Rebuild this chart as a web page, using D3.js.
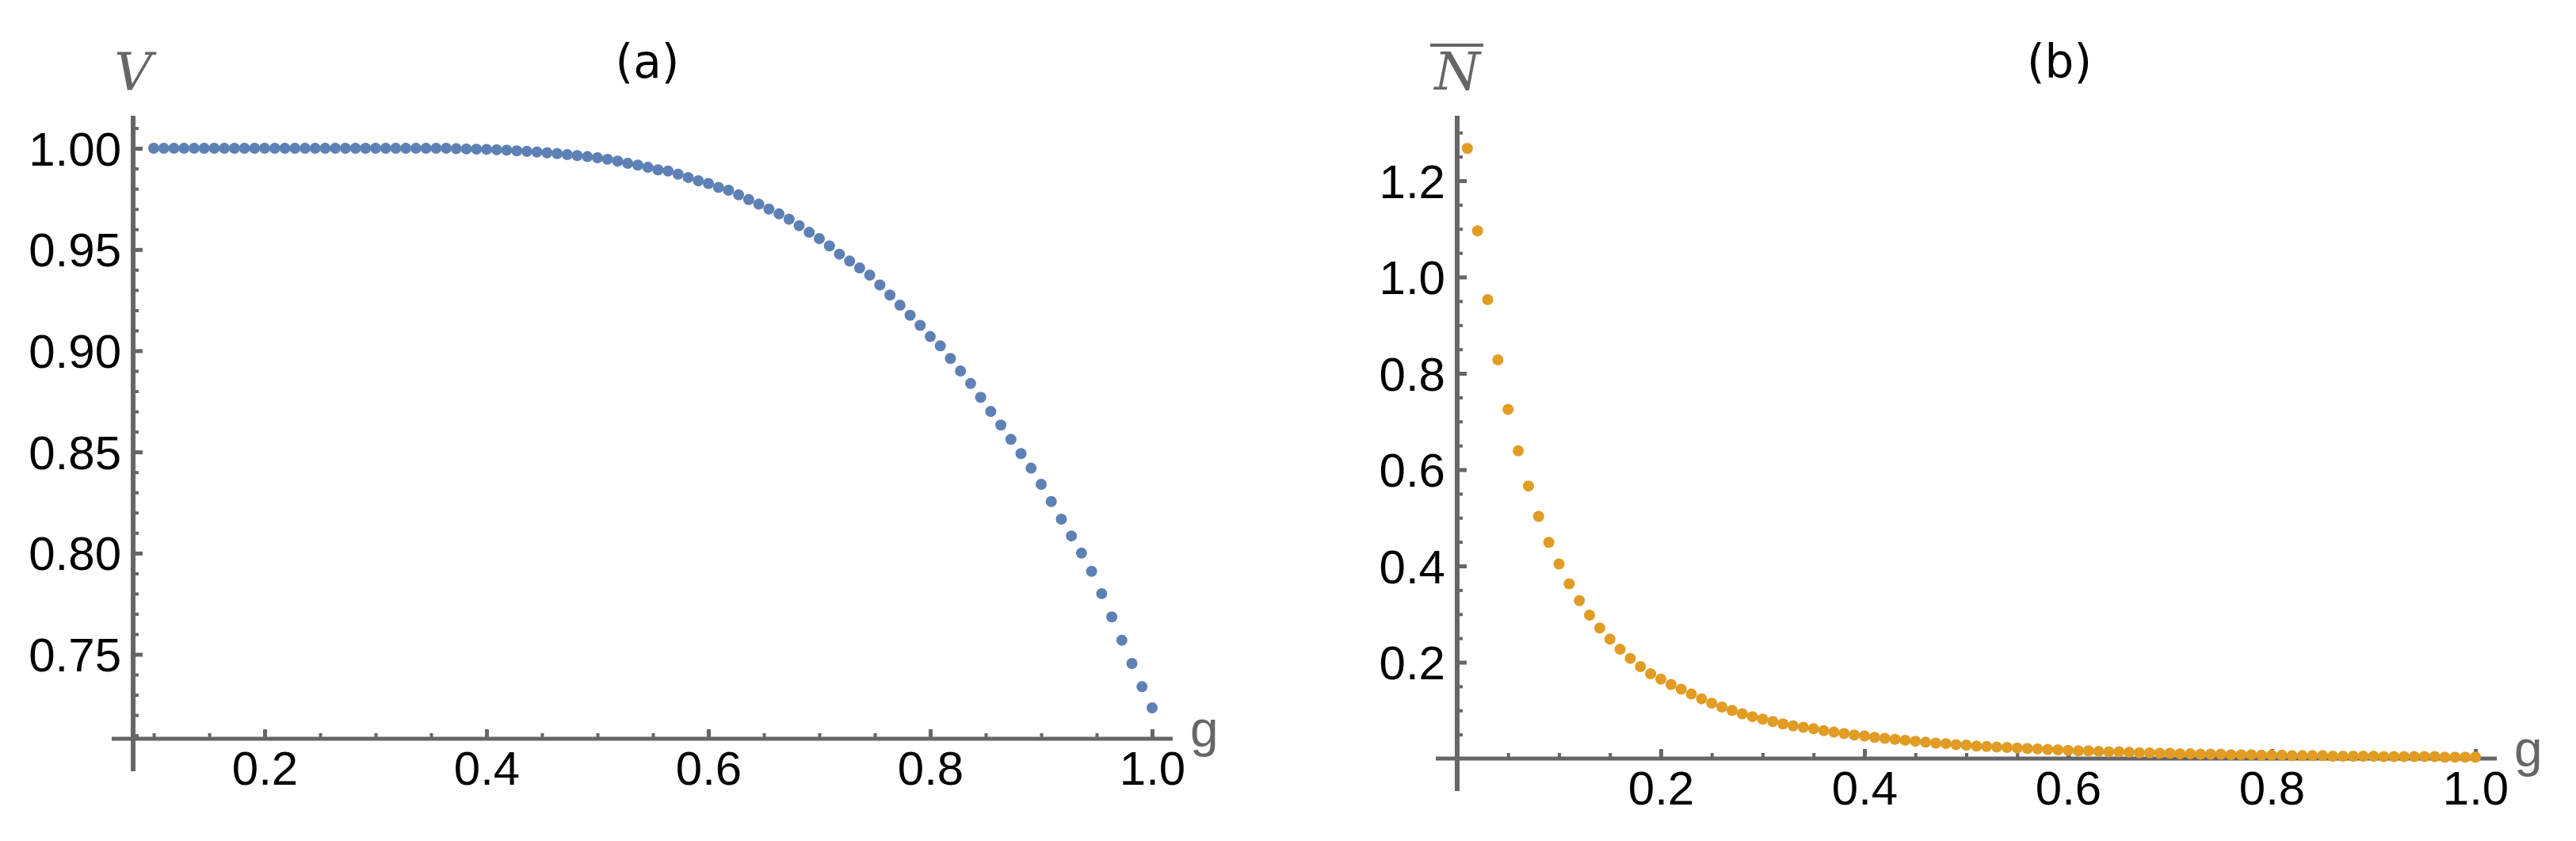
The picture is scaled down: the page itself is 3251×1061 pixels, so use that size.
<!DOCTYPE html>
<html>
<head>
<meta charset="utf-8">
<script src="https://cdn.jsdelivr.net/npm/d3@7"></script>
<style>
  body { margin: 0; background: #fff; }
  svg { display: block; }
</style>
</head>
<body>
<div id="chart"></div>
<script>
// panel (a): visibility V, 100 samples from g = 0.1 to 1.0
const gStartA = 0.1, gEndA = 1.0;
const visibility = [
  1, 1, 1, 1, 1, 1, 1, 1, 1, 1,
  1, 1, 1, 1, 1, 1, 1, 1, 1, 1,
  1, 1, 1, 1, 1, 1, 1, 1, 1, 1,
  0.9998, 0.9997, 0.9996, 0.9995, 0.9993, 0.9991, 0.9988, 0.9985, 0.9982, 0.9978,
  0.9974, 0.9969, 0.9964, 0.9959, 0.9953, 0.9946, 0.9937, 0.9926, 0.9917, 0.9906,
  0.9894, 0.9888, 0.9872, 0.9856, 0.984, 0.9826, 0.9807, 0.9793, 0.977, 0.9747,
  0.9724, 0.97, 0.9676, 0.965, 0.9618, 0.9585, 0.9554, 0.9518, 0.9477, 0.9443,
  0.9409, 0.9374, 0.9325, 0.9275, 0.9225, 0.9175, 0.9125, 0.907, 0.9024, 0.8962,
  0.89, 0.8838, 0.877, 0.87, 0.8633, 0.8562, 0.8492, 0.842, 0.834, 0.8255,
  0.8168, 0.8085, 0.8, 0.791, 0.78, 0.7685, 0.757, 0.7455, 0.734, 0.7236
];

// panel (b): mean N, 100 samples from g = 0.01 to 1.0
const gStartB = 0.01, gEndB = 1.0;
const meanN = [
  1.267, 1.096, 0.953, 0.828, 0.725, 0.639, 0.566, 0.503, 0.449, 0.404,
  0.363, 0.328, 0.298, 0.271, 0.248, 0.227, 0.208, 0.191, 0.176, 0.165,
  0.154, 0.144, 0.134, 0.124, 0.115, 0.107, 0.100, 0.093, 0.087, 0.082,
  0.077, 0.072, 0.068, 0.065, 0.062, 0.058, 0.055, 0.052, 0.049, 0.047,
  0.044, 0.042, 0.040, 0.038, 0.036, 0.034, 0.032, 0.031, 0.029, 0.028,
  0.026, 0.025, 0.024, 0.023, 0.022, 0.021, 0.020, 0.019, 0.018, 0.017,
  0.016, 0.016, 0.015, 0.014, 0.014, 0.013, 0.012, 0.012, 0.011, 0.011,
  0.010, 0.010, 0.009, 0.009, 0.009, 0.008, 0.008, 0.008, 0.007, 0.007,
  0.007, 0.006, 0.006, 0.006, 0.006, 0.005, 0.005, 0.005, 0.005, 0.005,
  0.004, 0.004, 0.004, 0.004, 0.004, 0.004, 0.003, 0.003, 0.003, 0.003
];

const xTicks = [0.2, 0.4, 0.6, 0.8, 1.0];
const yTicksA = [0.75, 0.80, 0.85, 0.90, 0.95, 1.00];
const yTicksB = [0.2, 0.4, 0.6, 0.8, 1.0, 1.2];

const W = 3251, H = 1061;
const axisColor = "#666666";
const font = "'Liberation Sans', Arial, sans-serif";

const svg = d3.select("#chart").append("svg")
  .attr("width", W).attr("height", H);

function sampleGrid(start, end, n) {
  return d3.range(n).map(i => start + i * (end - start) / (n - 1));
}

function drawPanel(cfg) {
  const x = d3.scaleLinear().domain(cfg.xDomain).range([cfg.left, cfg.right]);
  const y = d3.scaleLinear().domain(cfg.yDomain).range([cfg.bottom, cfg.top]);
  const g = svg.append("g");

  // minor ticks
  const xMinor = d3.range(0.05, 1.0001, 0.05).filter(v => v >= cfg.xDomain[0]);
  g.append("g").attr("transform", `translate(0,${cfg.bottom})`)
    .call(d3.axisTop(x).tickValues(xMinor).tickSize(7).tickFormat(""))
    .call(a => a.select(".domain").remove())
    .selectAll("line").attr("stroke", axisColor).attr("stroke-width", 4);

  const yMinor = d3.range(cfg.yMinorStart, cfg.yDomain[1], cfg.yMinorStep);
  g.append("g").attr("transform", `translate(${cfg.left},0)`)
    .call(d3.axisRight(y).tickValues(yMinor).tickSize(7).tickFormat(""))
    .call(a => a.select(".domain").remove())
    .selectAll("line").attr("stroke", axisColor).attr("stroke-width", 4);

  // major ticks + labels
  const xa = g.append("g").attr("transform", `translate(0,${cfg.bottom})`)
    .call(d3.axisTop(x).tickValues(xTicks).tickSize(12).tickFormat(d3.format(".1f")));
  xa.select(".domain").remove();
  xa.selectAll("line").attr("stroke", axisColor).attr("stroke-width", 5);
  xa.selectAll("text").attr("y", 58).attr("dy", 0)
    .attr("font-family", font).attr("font-size", 60).attr("fill", "#000");

  const ya = g.append("g").attr("transform", `translate(${cfg.left},0)`)
    .call(d3.axisRight(y).tickValues(cfg.yTicks).tickSize(12).tickFormat(d3.format(cfg.yFormat)));
  ya.select(".domain").remove();
  ya.selectAll("line").attr("stroke", axisColor).attr("stroke-width", 5);
  ya.selectAll("text").attr("x", -15).attr("dy", "0.35em").attr("text-anchor", "end")
    .attr("font-family", font).attr("font-size", 60).attr("fill", "#000");

  // axis lines
  g.append("line").attr("x1", cfg.left - 27).attr("x2", cfg.right)
    .attr("y1", cfg.bottom).attr("y2", cfg.bottom)
    .attr("stroke", axisColor).attr("stroke-width", 5);
  g.append("line").attr("x1", cfg.left).attr("x2", cfg.left)
    .attr("y1", cfg.top).attr("y2", cfg.bottom + (973 - 932))
    .attr("stroke", axisColor).attr("stroke-width", 6);

  // points
  const gs = sampleGrid(cfg.gStart, cfg.gEnd, cfg.values.length);
  g.append("g").selectAll("circle")
    .data(cfg.values)
    .join("circle")
    .attr("cx", (d, i) => x(gs[i]))
    .attr("cy", d => y(d))
    .attr("r", 7)
    .attr("fill", cfg.color);

  // axis labels
  g.append("text").attr("x", cfg.right + 22).attr("y", cfg.bottom + 10)
    .attr("font-family", font).attr("font-size", 64).attr("fill", axisColor).text("g");

  const yl = g.append("text").attr("x", cfg.left + cfg.yLabelDx).attr("y", 113)
    .attr("text-anchor", "middle")
    .attr("font-family", "'DejaVu Serif', serif").attr("font-style", "italic")
    .attr("font-size", 66).attr("fill", axisColor).text(cfg.yLabel);
  if (cfg.overbar) {
    g.append("line").attr("x1", cfg.left - 34).attr("x2", cfg.left + 33)
      .attr("y1", 57).attr("y2", 57).attr("stroke", axisColor).attr("stroke-width", 4);
  }

  // title
  g.append("text").attr("x", cfg.titleX).attr("y", 98).attr("text-anchor", "middle")
    .attr("font-family", "'DejaVu Sans', sans-serif").attr("font-size", 58)
    .attr("fill", "#000").text(cfg.title);
}

drawPanel({
  left: 168, right: 1480, top: 146, bottom: 932,
  xDomain: [0.0814, 0.1 + (1480 - 194) / 1400], yDomain: [0.7083, 1.0161],
  yTicks: yTicksA, yFormat: ".2f", yMinorStart: 0.71, yMinorStep: 0.01,
  gStart: gStartA, gEnd: gEndA, values: visibility, color: "#5E81B5",
  yLabel: "V", yLabelDx: 0, overbar: false, title: "(a)", titleX: 817
});

drawPanel({
  left: 1839, right: 3151, top: 146, bottom: 957,
  xDomain: [0, (3151 - 1839) / 1285], yDomain: [0, (957 - 146) / 607.5],
  yTicks: yTicksB, yFormat: ".1f", yMinorStart: 0.05, yMinorStep: 0.05,
  gStart: gStartB, gEnd: gEndB, values: meanN, color: "#E19C24",
  yLabel: "N", yLabelDx: 0, overbar: true, title: "(b)", titleX: 2599
});
</script>
</body>
</html>
